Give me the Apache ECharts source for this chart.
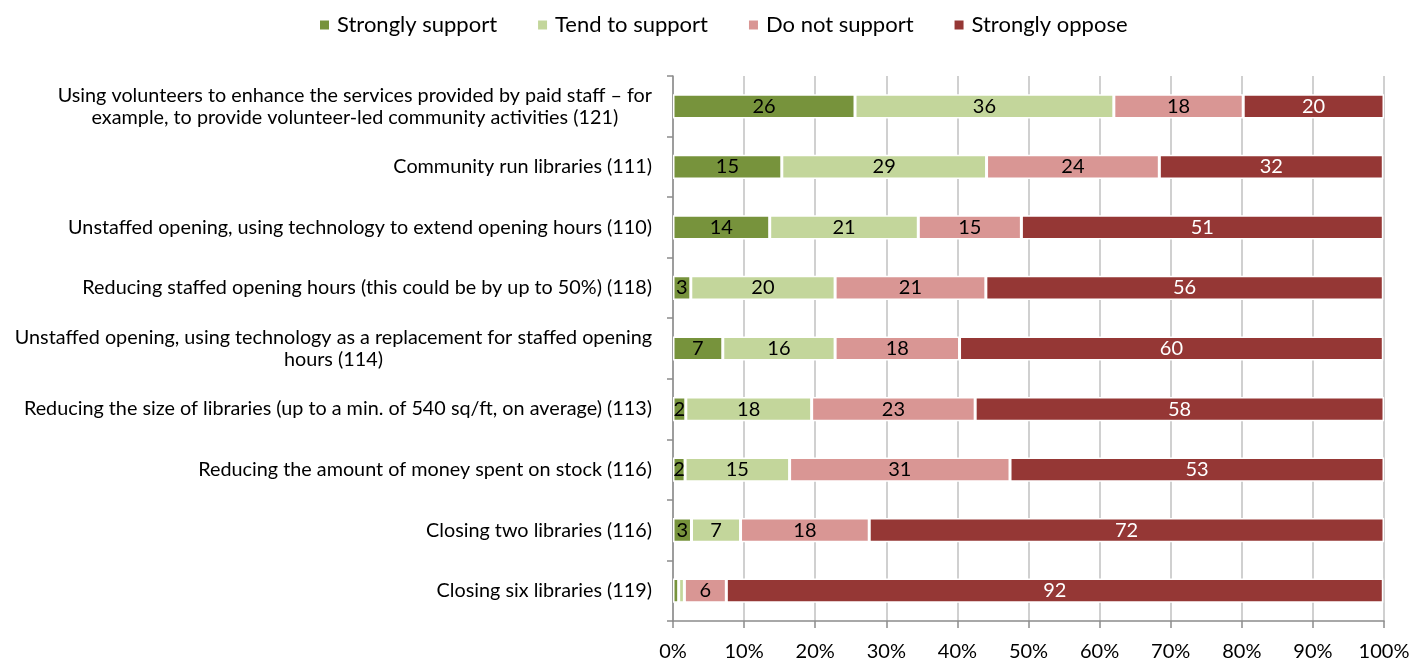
<!DOCTYPE html>
<html>
<head>
<meta charset="utf-8">
<script src="https://cdn.jsdelivr.net/npm/echarts@6/dist/echarts.min.js"></script>
<style>
html,body{margin:0;padding:0;background:#fff;}
#chart{width:1414px;height:662px;}
</style>
</head>
<body>
<div id="chart"></div>
<script>
// Categories (top to bottom); "\n" marks the line break in the label
var categories = [
  "Using volunteers to enhance the services provided by paid staff \u2013 for\nexample, to provide volunteer-led community activities (121)",
  "Community run libraries (111)",
  "Unstaffed opening, using technology to extend opening hours (110)",
  "Reducing staffed opening hours (this could be by up to 50%) (118)",
  "Unstaffed opening, using technology as a replacement for staffed opening\nhours (114)",
  "Reducing the size of libraries (up to a min. of 540 sq/ft, on average) (113)",
  "Reducing the amount of money spent on stock (116)",
  "Closing two libraries (116)",
  "Closing six libraries (119)"
];
var seriesNames = ["Strongly support", "Tend to support", "Do not support", "Strongly oppose"];
// Percentages of respondents (labels show rounded values)
var stronglySupport = [25.6, 15.3, 13.6, 2.5, 7.0, 1.8, 1.7, 2.6, 0.8];
var tendToSupport   = [36.4, 28.8, 20.9, 20.3, 15.8, 17.7, 14.7, 6.9, 0.8];
var doNotSupport    = [18.2, 24.3, 14.5, 21.2, 17.5, 23.0, 31.0, 18.1, 5.9];
var stronglyOppose  = [19.8, 31.5, 50.9, 55.9, 59.6, 57.5, 52.6, 72.4, 92.4];
var xTicks = [0, 10, 20, 30, 40, 50, 60, 70, 80, 90, 100];

var colors = ["#77933C", "#C3D69B", "#D99694", "#953735"];
var labelColors = ["#000", "#000", "#000", "#fff"];
var FONT = "Lato";

var seriesData = [stronglySupport, tendToSupport, doNotSupport, stronglyOppose];
var series = seriesData.map(function (d, i) {
  return {
    name: seriesNames[i],
    type: "bar",
    stack: "total",
    barWidth: "40%",
    data: d,
    itemStyle: { color: colors[i], borderColor: "#fff", borderWidth: 1.5 },
    label: {
      show: true,
      position: "inside",
      color: labelColors[i],
      fontFamily: FONT,
      fontSize: 20,
      formatter: function (p) { return p.value < 1.5 ? "" : String(Math.round(p.value)); }
    },
    emphasis: { disabled: true }
  };
});

var chart = echarts.init(document.getElementById("chart"), null, { renderer: "canvas" });
chart.setOption({
  animation: false,
  backgroundColor: "#fff",
  color: colors,
  textStyle: { fontFamily: FONT },
  legend: {
    top: 14,
    left: 318,
    padding: 0,
    icon: "rect",
    itemWidth: 11,
    itemHeight: 11,
    itemGap: 39,
    data: seriesNames,
    textStyle: { fontFamily: FONT, fontSize: 22, color: "#000", padding: [0, 0, 0, 2] }
  },
  grid: { left: 673, right: 30, top: 76, bottom: 41, containLabel: false },
  xAxis: {
    type: "value",
    min: xTicks[0],
    max: xTicks[xTicks.length - 1],
    interval: xTicks[1] - xTicks[0],
    axisLine: { show: true, lineStyle: { color: "#8C8C8C", width: 1.5 } },
    axisTick: { show: true, length: 7, lineStyle: { color: "#8C8C8C", width: 1.5 } },
    splitLine: { show: true, lineStyle: { color: "#C0C0C0", width: 1.5 } },
    axisLabel: { formatter: "{value}%", fontFamily: FONT, fontSize: 20, color: "#000", margin: 21 }
  },
  yAxis: {
    type: "category",
    inverse: true,
    data: categories,
    axisLine: { show: true, lineStyle: { color: "#8C8C8C", width: 1.5 } },
    axisTick: { show: true, length: 6, interval: 0, alignWithLabel: false, lineStyle: { color: "#8C8C8C", width: 1.5 } },
    splitLine: { show: false },
    axisLabel: {
      interval: 0,
      margin: 21,
      align: "right",
      color: "#000",
      fontFamily: FONT,
      fontSize: 19.8,
      lineHeight: 22,
      formatter: function (v) {
        return v.split("\n").map(function (l) { return "{c|" + l + "}"; }).join("\n");
      },
      rich: { c: { align: "center", fontFamily: FONT, fontSize: 19.8, lineHeight: 22, color: "#000" } }
    }
  },
  series: series
});
</script>
</body>
</html>
